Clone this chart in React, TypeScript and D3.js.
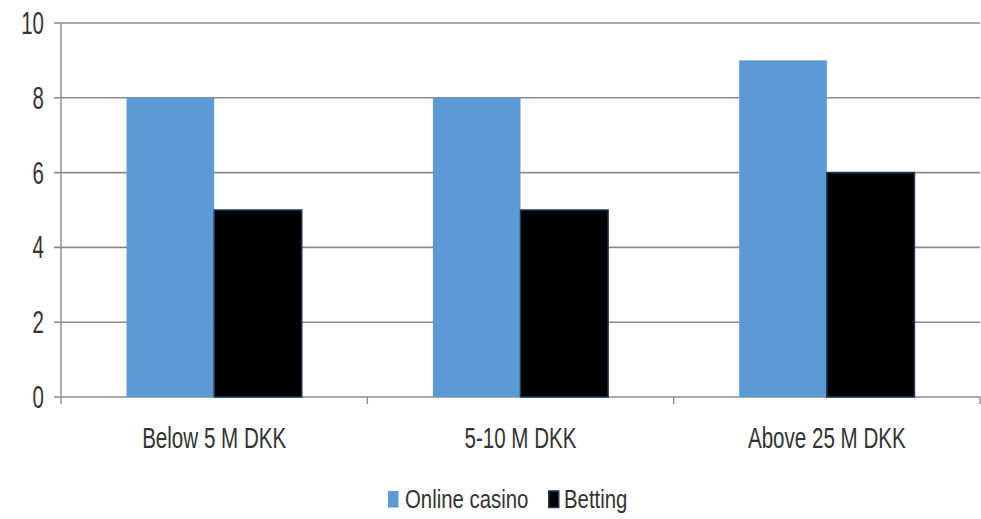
import React, { useEffect, useRef } from 'react';
import * as d3 from 'd3';

const categories = ['Below 5 M DKK', '5-10 M DKK', 'Above 25 M DKK'];
const seriesNames = ['Online casino', 'Betting'];
const onlineCasino = [8, 8, 9];
const betting = [5, 5, 6];
const yTicks = [0, 2, 4, 6, 8, 10];

// narrow look: Liberation Sans squeezed horizontally
const FONT = '"Liberation Sans", Arial, sans-serif';

const App = () => {
    const svgRef = useRef<SVGSVGElement>(null);

    useEffect(() => {
        const width = 981;
        const height = 519;
        const margin = { top: 23, right: 1, bottom: 122, left: 61 };
        const innerW = width - margin.left - margin.right;
        const innerH = height - margin.top - margin.bottom;

        const svg = d3.select(svgRef.current)
            .attr('width', width)
            .attr('height', height);
        svg.selectAll('*').remove();

        const g = svg.append('g')
            .attr('transform', `translate(${margin.left},${margin.top})`);

        const x = d3.scaleBand<string>()
            .domain(categories)
            .range([0, innerW]);

        const y = d3.scaleLinear()
            .domain([0, 10])
            .range([innerH, 0]);

        const groupW = x.bandwidth() * 0.572;
        const xs = d3.scaleBand<string>()
            .domain(seriesNames)
            .range([0, groupW]);

        // gridlines
        g.selectAll('line.grid')
            .data(yTicks)
            .enter()
            .append('line')
            .attr('x1', -7)
            .attr('x2', innerW)
            .attr('y1', d => y(d))
            .attr('y2', d => y(d))
            .attr('stroke', '#8c8c8c')
            .attr('stroke-width', 1.6);

        // left axis line
        g.append('line')
            .attr('x1', 0).attr('x2', 0)
            .attr('y1', 0).attr('y2', innerH + 7)
            .attr('stroke', '#8c8c8c')
            .attr('stroke-width', 1.4);

        // category boundary ticks
        const bounds = categories.map(c => x(c) as number).concat([innerW]);
        g.selectAll('line.ctick')
            .data(bounds.slice(1))
            .enter()
            .append('line')
            .attr('x1', d => d).attr('x2', d => d)
            .attr('y1', innerH).attr('y2', innerH + 7)
            .attr('stroke', '#8c8c8c')
            .attr('stroke-width', 1.4);

        const rows = categories.map((c, i) => ({ c, vals: [onlineCasino[i], betting[i]] }));
        const colors = ['#5b9bd5', '#000000'];
        const strokes = ['#5b9bd5', '#1d3a57'];

        const grp = g.selectAll('g.cat')
            .data(rows)
            .enter()
            .append('g')
            .attr('transform', d => `translate(${(x(d.c) as number) + (x.bandwidth() - groupW) / 2},0)`);

        grp.selectAll('rect')
            .data(d => d.vals.map((v, j) => ({ v, j })))
            .enter()
            .append('rect')
            .attr('x', d => xs(seriesNames[d.j]) as number)
            .attr('y', d => y(d.v))
            .attr('width', xs.bandwidth())
            .attr('height', d => innerH - y(d.v))
            .attr('fill', d => colors[d.j])
            .attr('stroke', d => d.j === 1 ? strokes[1] : 'none')
            .attr('stroke-width', 1.5);

        // y labels
        g.selectAll('text.ylab')
            .data(yTicks)
            .enter()
            .append('text')
            .attr('transform', d => `translate(-17,${y(d) + 11}) scale(0.66,1)`)
            .attr('text-anchor', 'end')
            .attr('fill', '#333')
            .style('font-family', FONT)
            .style('font-size', '31px')
            .text(d => d);

        // x labels
        g.selectAll('text.xlab')
            .data(categories)
            .enter()
            .append('text')
            .attr('transform', d => `translate(${(x(d) as number) + x.bandwidth() / 2},${innerH + 51}) scale(0.686,1)`)
            .attr('text-anchor', 'middle')
            .attr('fill', '#333')
            .style('font-family', FONT)
            .style('font-size', '30px')
            .text(d => d);

        // legend
        const legend = svg.append('g').attr('transform', 'translate(388,508)');
        const items = [
            { name: seriesNames[0], x: 0 },
            { name: seriesNames[1], x: 160 },
        ];
        items.forEach((it, j) => {
            legend.append('rect')
                .attr('x', it.x + (j === 1 ? 0.75 : 0))
                .attr('y', -17)
                .attr('width', j === 1 ? 10 : 10.5)
                .attr('height', 16.5)
                .attr('fill', colors[j])
                .attr('stroke', j === 1 ? strokes[1] : 'none')
                .attr('stroke-width', 1.5);
            legend.append('text')
                .attr('transform', `translate(${it.x + (j === 1 ? 16 : 17)},0) scale(0.815,1)`)
                .attr('fill', '#333')
                .style('font-family', FONT)
                .style('font-size', '25px')
                .text(it.name);
        });
    }, []);

    return <svg ref={svgRef} style={{ position: 'absolute', left: 0, top: 0 }}></svg>;
};

export default App;
